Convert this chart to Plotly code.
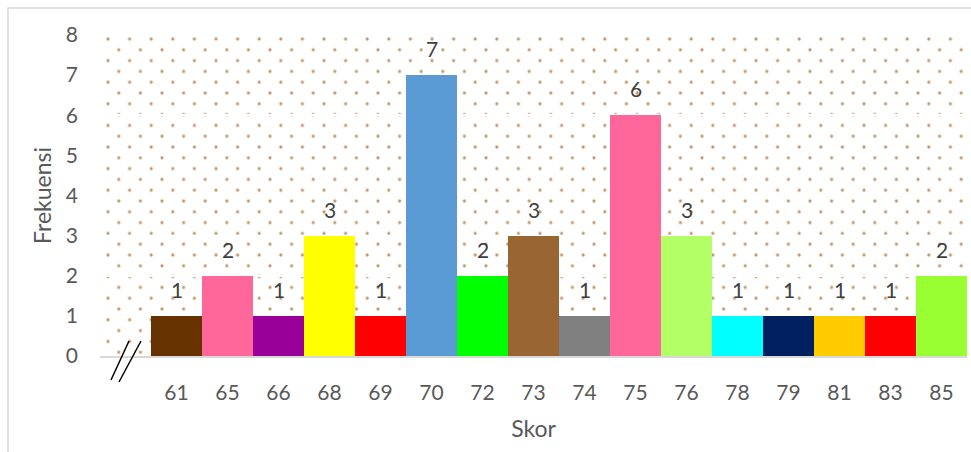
import plotly.graph_objects as go
import base64

categories = ["", "61", "65", "66", "68", "69", "70", "72", "73", "74", "75", "76", "78", "79", "81", "83", "85"]
frequencies = [None, 1, 2, 1, 3, 1, 7, 2, 3, 1, 6, 3, 1, 1, 1, 1, 2]
bar_colors = ["#ffffff", "#663300", "#ff6699", "#990099", "#ffff00", "#ff0000", "#5b9bd5", "#00ff00",
              "#996633", "#808080", "#ff6699", "#b2ff66", "#00ffff", "#002060", "#ffcc00", "#ff0000", "#99ff33"]
y_ticks = [0, 1, 2, 3, 4, 5, 6, 7, 8]

W, H = 971, 452
ML, MR, MT, MB = 100, 4, 35, 96
PW, PH = W - ML - MR, H - MT - MB

svg = (
    f"<svg xmlns='http://www.w3.org/2000/svg' width='{PW}' height='{PH}' viewBox='0 0 {PW} {PH}' preserveAspectRatio='none'>"
    "<defs><pattern id='p' x='8' y='4' width='21.6' height='21.6' patternUnits='userSpaceOnUse'>"
    "<circle cx='0' cy='0' r='1.6' fill='#c49a6c'/><circle cx='21.6' cy='0' r='1.6' fill='#c49a6c'/>"
    "<circle cx='0' cy='21.6' r='1.6' fill='#c49a6c'/><circle cx='21.6' cy='21.6' r='1.6' fill='#c49a6c'/>"
    "<circle cx='10.8' cy='10.8' r='1.6' fill='#c49a6c'/></pattern></defs>"
    f"<rect width='{PW}' height='{PH}' fill='url(#p)'/></svg>"
)
src = "data:image/svg+xml;base64," + base64.b64encode(svg.encode()).decode()

FONT = "Lato"

fig = go.Figure(
    go.Bar(
        x=categories,
        y=frequencies,
        marker=dict(color=bar_colors, line=dict(width=0)),
        hoverinfo="skip",
    )
)

annotations = [
    dict(x=i, y=v, text=str(v), showarrow=False, yanchor="bottom", yshift=12,
         font=dict(family=FONT, size=21, color="#404040"))
    for i, v in enumerate(frequencies) if v is not None
]

fig.update_layout(
    width=W, height=H,
    margin=dict(l=ML, r=MR, t=MT, b=MB),
    paper_bgcolor="white",
    plot_bgcolor="rgba(0,0,0,0)",
    bargap=0,
    showlegend=False,
    font=dict(family=FONT, color="#595959"),
    annotations=annotations,
    images=[dict(source=src, xref="paper", yref="paper", x=0, y=1, sizex=1, sizey=1,
                 sizing="stretch", xanchor="left", yanchor="top", layer="below")],
    shapes=[
        dict(type="rect", xref="paper", yref="paper", x0=-92 / PW, x1=1.2, y0=-1, y1=1 + 27 / PH,
             line=dict(color="#d9d9d9", width=1.5), fillcolor="rgba(0,0,0,0)", layer="below"),
        dict(type="line", xref="paper", yref="paper", x0=11 / PW, y0=-24 / PH, x1=29 / PW, y1=15 / PH,
             line=dict(color="black", width=1.5)),
        dict(type="line", xref="paper", yref="paper", x0=19 / PW, y0=-26 / PH, x1=41 / PW, y1=15 / PH,
             line=dict(color="black", width=1.5)),
    ],
)

fig.update_xaxes(
    type="category",
    categoryorder="array", categoryarray=categories,
    range=[-0.5, len(categories) - 0.5],
    showline=True, linecolor="#d9d9d9", linewidth=2,
    showgrid=False, zeroline=False,
    ticks="", ticklabelstandoff=17,
    tickfont=dict(family=FONT, size=21, color="#595959"),
    title=dict(text="Skor", font=dict(family=FONT, size=23, color="#595959"), standoff=18),
)
fig.update_yaxes(
    range=[0, 8], tickvals=y_ticks,
    showgrid=True, gridcolor="white", gridwidth=1.5,
    zeroline=False, showline=False, ticks="",
    ticklabelstandoff=21,
    tickfont=dict(family=FONT, size=21, color="#595959"),
    title=dict(text="Frekuensi", font=dict(family=FONT, size=23, color="#595959"), standoff=7),
)

fig.write_html("out.html")
